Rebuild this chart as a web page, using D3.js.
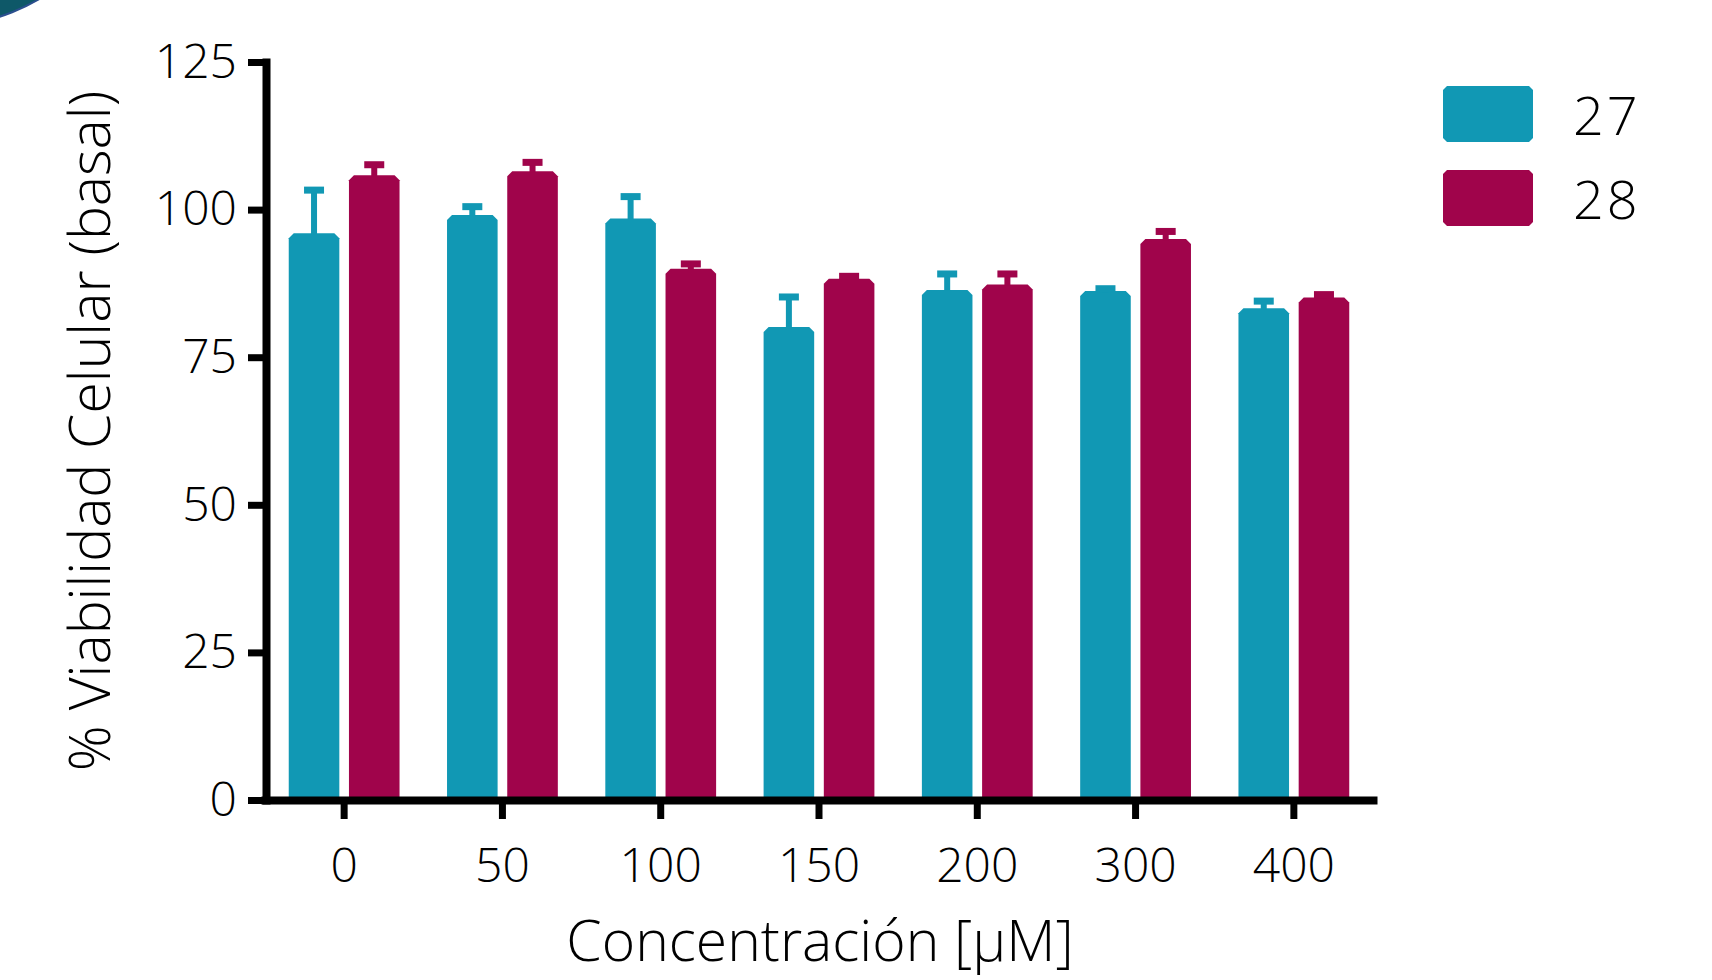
<!DOCTYPE html>
<html>
<head>
<meta charset="utf-8">
<script src="https://cdn.jsdelivr.net/npm/d3@7"></script>
<style>
  body { margin: 0; background: #fff; }
  text { font-family: "Open Sans", "Noto Sans", sans-serif; font-weight: 300; fill: #000; }
</style>
</head>
<body>
<script>
// data
var categories = ["0", "50", "100", "150", "200", "300", "400"];
var seriesNames = ["27", "28"];
var mean27 = [96.0, 99.1, 98.5, 80.1, 86.4, 86.2, 83.3];
var sem27  = [7.3, 1.4, 3.7, 5.1, 2.7, 0.4, 1.2];
var mean28 = [105.8, 106.5, 90.0, 88.3, 87.3, 95.0, 85.1];
var sem28  = [1.8, 1.5, 0.8, 0.4, 1.8, 1.3, 0.5];
var yTicks = [0, 25, 50, 75, 100, 125];
var colors = ["#1198b4", "#a0044b"];

var rows = [];
categories.forEach(function(c, i) {
  rows.push({cat: c, s: "27", m: mean27[i], e: sem27[i]});
  rows.push({cat: c, s: "28", m: mean28[i], e: sem28[i]});
});

var svg = d3.select("body").append("svg").attr("width", 1712).attr("height", 980);

// corner decoration (part of a slide)
svg.append("circle")
    .attr("cx", -60).attr("cy", -170).attr("r", 196)
    .attr("fill", "#0e5868").attr("stroke", "#2b4f8e").attr("stroke-width", 2);

var x0 = d3.scaleBand().domain(categories).range([265, 1373]).paddingInner(0.3).paddingOuter(0.15);
var x1 = d3.scaleBand().domain(seriesNames).range([0, x0.bandwidth()]).paddingInner(0.16);
var y = d3.scaleLinear().domain([0, 125]).range([800, 62]);
var color = d3.scaleOrdinal().domain(seriesNames).range(colors);

// bars with cut top corners
var c = 5;
svg.selectAll("path.bar")
    .data(rows)
    .enter().append("path")
    .attr("class", "bar")
    .attr("fill", function(d) { return color(d.s); })
    .attr("d", function(d) {
      var x = x0(d.cat) + x1(d.s), w = x1.bandwidth(), t = y(d.m), b = y(0);
      return "M" + x + "," + b + "L" + x + "," + (t + c) + "L" + (x + c) + "," + t +
             "L" + (x + w - c) + "," + t + "L" + (x + w) + "," + (t + c) + "L" + (x + w) + "," + b + "Z";
    });

// error bars (SEM, upper only)
svg.selectAll("rect.stem")
    .data(rows)
    .enter().append("rect")
    .attr("class", "stem")
    .attr("fill", function(d) { return color(d.s); })
    .attr("x", function(d) { return x0(d.cat) + x1(d.s) + x1.bandwidth() / 2 - 3; })
    .attr("width", 6)
    .attr("y", function(d) { return y(d.m + d.e); })
    .attr("height", function(d) { return y(d.m) - y(d.m + d.e) + 1; });

svg.selectAll("rect.cap")
    .data(rows)
    .enter().append("rect")
    .attr("class", "cap")
    .attr("fill", function(d) { return color(d.s); })
    .attr("x", function(d) { return x0(d.cat) + x1(d.s) + x1.bandwidth() / 2 - 10; })
    .attr("width", 20)
    .attr("y", function(d) { return y(d.m + d.e) - 3.5; })
    .attr("height", 7);

// axes
var yAxis = svg.append("g")
    .attr("transform", "translate(266,0)")
    .call(d3.axisLeft(y).tickValues(yTicks).tickSize(18).tickSizeOuter(0).tickPadding(11));
yAxis.select(".domain").attr("stroke", "#000").attr("stroke-width", 8).attr("stroke-linecap", "square");
yAxis.selectAll(".tick line").attr("stroke", "#000").attr("stroke-width", 7);
yAxis.selectAll(".tick text").attr("font-size", 48).attr("fill", "#000");

var xAxis = svg.append("g")
    .attr("transform", "translate(0,800)")
    .call(d3.axisBottom(x0).tickSize(19).tickSizeOuter(0));
xAxis.select(".domain").attr("stroke", "#000").attr("stroke-width", 8).attr("stroke-linecap", "square");
xAxis.selectAll(".tick line").attr("stroke", "#000").attr("stroke-width", 7);
xAxis.selectAll(".tick text").attr("font-size", 48).attr("fill", "#000").attr("y", 82).attr("dy", null);

yAxis.selectAll("text").attr("font-family", null);
xAxis.selectAll("text").attr("font-family", null);

// axis titles
svg.append("text")
    .attr("x", 820).attr("y", 961)
    .attr("text-anchor", "middle")
    .attr("font-size", 57)
    .text("Concentración [μM]");

svg.append("text")
    .attr("transform", "translate(110,431) rotate(-90)")
    .attr("text-anchor", "middle")
    .attr("font-size", 57)
    .text("% Viabilidad Celular (basal)");

// legend
var legend = svg.selectAll("g.legend")
    .data(seriesNames)
    .enter().append("g")
    .attr("class", "legend")
    .attr("transform", function(d, i) { return "translate(1443," + (86 + i * 84) + ")"; });

legend.append("path")
    .attr("fill", function(d) { return color(d); })
    .attr("d", "M0,4L4,0L86,0L90,4L90,52L86,56L4,56L0,52Z");

legend.append("text")
    .attr("x", 130).attr("y", 49)
    .attr("font-size", 54)
    .attr("letter-spacing", 3)
    .text(function(d) { return d; });
</script>
</body>
</html>
